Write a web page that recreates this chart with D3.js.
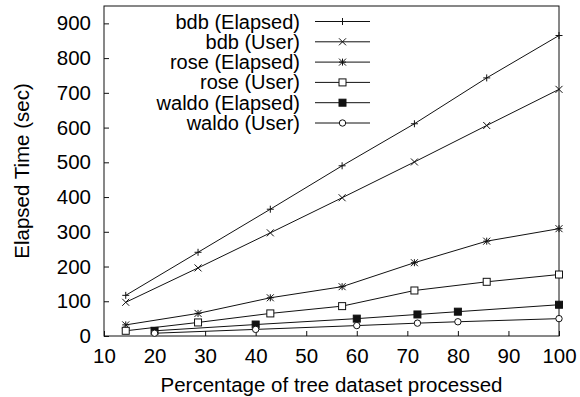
<!DOCTYPE html>
<html>
<head>
<meta charset="utf-8">
<script src="https://cdn.jsdelivr.net/npm/d3@7"></script>
<style>
  body { margin: 0; background: #fff; }
  text { font-family: "Liberation Sans", Arial, sans-serif; fill: #000; }
</style>
</head>
<body>
<svg id="chart" width="580" height="397"></svg>
<script>
// data
const bdbX = [14.3, 28.6, 42.9, 57.1, 71.4, 85.7, 100];
const bdbElapsed = [117, 241, 365, 490, 611, 743, 865];
const bdbUser = [97, 196, 297, 398, 501, 606, 710];
const roseElapsed = [32, 65, 110, 142, 211, 273, 309];
const roseUser = [15, 39, 65, 86, 131, 156, 177];
const waldoX = [20, 40, 60, 72, 80, 100];
const waldoElapsed = [15, 33, 50, 62, 70, 90];
const waldoUser = [8, 19, 30, 37, 41, 50];

const xTicks = [10, 20, 30, 40, 50, 60, 70, 80, 90, 100];
const yTicks = [0, 100, 200, 300, 400, 500, 600, 700, 800, 900];

const series = [
    {name: "bdb (Elapsed)", xs: bdbX, ys: bdbElapsed, mark: "plus"},
    {name: "bdb (User)", xs: bdbX, ys: bdbUser, mark: "cross"},
    {name: "rose (Elapsed)", xs: bdbX, ys: roseElapsed, mark: "star"},
    {name: "rose (User)", xs: bdbX, ys: roseUser, mark: "box"},
    {name: "waldo (Elapsed)", xs: waldoX, ys: waldoElapsed, mark: "fbox"},
    {name: "waldo (User)", xs: waldoX, ys: waldoUser, mark: "circle"}
];

const width = 580, height = 397;
const marginLeft = 104, marginRight = 21, marginTop = 6, marginBottom = 61;
const fs = 20.5;

const svg = d3.select("#chart");

const x = d3.scaleLinear().domain([10, 100]).range([marginLeft, width - marginRight]);
const y = d3.scaleLinear().domain([0, 950]).range([height - marginBottom, marginTop]);

const ink = "#111";

// axes - gnuplot style, ticks inward
svg.append("g")
    .attr("transform", `translate(0,${height - marginBottom})`)
    .call(d3.axisBottom(x).tickValues(xTicks).tickSizeInner(-5).tickSizeOuter(0))
    .call(g => g.select(".domain").remove())
    .call(g => g.selectAll("line").attr("stroke", ink))
    .call(g => g.selectAll("text").attr("font-size", fs).attr("dy", "0.71em").attr("y", 12));

svg.append("g")
    .attr("transform", `translate(${marginLeft},0)`)
    .call(d3.axisLeft(y).tickValues(yTicks).tickSizeInner(-5).tickSizeOuter(0).tickPadding(13))
    .call(g => g.select(".domain").remove())
    .call(g => g.selectAll("line").attr("stroke", ink))
    .call(g => g.selectAll("text").attr("font-size", fs));

svg.append("rect")
    .attr("x", marginLeft).attr("y", marginTop)
    .attr("width", width - marginLeft - marginRight)
    .attr("height", height - marginTop - marginBottom)
    .attr("fill", "none").attr("stroke", ink).attr("stroke-width", 1);

// axis titles
svg.append("text")
    .attr("x", (marginLeft + width - marginRight) / 2)
    .attr("y", 392)
    .attr("text-anchor", "middle")
    .attr("font-size", fs)
    .text("Percentage of tree dataset processed");

svg.append("text")
    .attr("transform", `translate(29,${(marginTop + height - marginBottom) / 2}) rotate(-90)`)
    .attr("text-anchor", "middle")
    .attr("font-size", fs)
    .text("Elapsed Time (sec)");

function drawMark(g, kind, cx, cy) {
    const s = 3.5;
    if (kind === "plus" || kind === "star") {
        g.append("path").attr("d", `M${cx - s},${cy}H${cx + s}M${cx},${cy - s}V${cy + s}`)
            .attr("stroke", ink).attr("fill", "none");
    }
    if (kind === "cross" || kind === "star") {
        g.append("path").attr("d", `M${cx - s},${cy - s}L${cx + s},${cy + s}M${cx - s},${cy + s}L${cx + s},${cy - s}`)
            .attr("stroke", ink).attr("fill", "none");
    }
    if (kind === "box" || kind === "fbox") {
        g.append("rect").attr("x", cx - s).attr("y", cy - s).attr("width", 2 * s).attr("height", 2 * s)
            .attr("fill", kind === "fbox" ? ink : "#fff").attr("stroke", ink);
    }
    if (kind === "circle") {
        g.append("circle").attr("cx", cx).attr("cy", cy).attr("r", 3.2)
            .attr("fill", "#fff").attr("stroke", ink);
    }
}

const line = d3.line().x(d => x(d[0])).y(d => y(d[1]));

series.forEach(s => {
    const pts = s.xs.map((v, i) => [v, s.ys[i]]);
    const g = svg.append("g");
    g.append("path").attr("d", line(pts))
        .attr("fill", "none").attr("stroke", ink).attr("stroke-width", 1);
    pts.forEach(p => drawMark(g, s.mark, x(p[0]), y(p[1])));
});

// legend
const legX = 300, legY = 21.5, legStep = 20.3;
series.forEach((s, i) => {
    const ly = legY + i * legStep;
    svg.append("text")
        .attr("x", legX).attr("y", ly)
        .attr("dy", "0.35em")
        .attr("text-anchor", "end")
        .attr("font-size", 20)
        .text(s.name);
    const g = svg.append("g").attr("class", "legend-sample");
    g.append("line").attr("x1", 315).attr("x2", 370).attr("y1", ly).attr("y2", ly)
        .attr("stroke", ink).attr("stroke-width", 1);
    drawMark(g, s.mark, 342.5, ly);
});
</script>
</body>
</html>
